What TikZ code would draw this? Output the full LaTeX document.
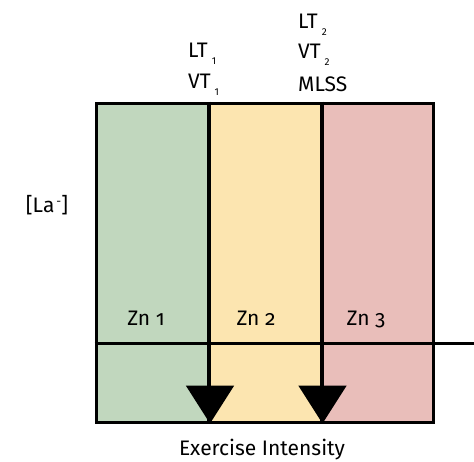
\documentclass[tikz,border=0pt]{standalone}
\usepackage{fontspec}
\setmainfont{Fira Sans}[Numbers=OldStyle]
\usetikzlibrary{arrows.meta}
\newcommand{\thrsub}[1]{\hspace{4pt}{\fontsize{10}{10}\selectfont\raisebox{-7pt}{\addfontfeature{Numbers=Lining}#1}}}
\tikzset{
  zone/.style={draw, line width=3pt, inner sep=0pt, minimum width=112.5pt, minimum height=319pt, anchor=north west},
  lbl/.style={font=\fontsize{21}{25}\selectfont, inner sep=0pt, anchor=base},
  thr/.style={line width=2pt, -{Triangle[width=48pt,length=38pt]}}
}
\begin{document}
\begin{tikzpicture}[x=1pt, y=-1pt]
  \useasboundingbox (0,0) rectangle (474,461);
  % ZONE
  \node[zone, fill={rgb,255:red,193;green,215;blue,190}] (z1) at (94.5,101.5) {};
  \node[zone, fill={rgb,255:red,252;green,229;blue,176}] (z2) at (207,101.5) {};
  \node[zone, fill={rgb,255:red,233;green,190;blue,186}] (z3) at (319.5,101.5) {};
  \node[lbl] (zn1) at (146,325) {Zn 1};
  \node[lbl] (zn2) at (256,325) {Zn 2};
  \node[lbl] (zn3) at (366,325) {Zn 3};

  % ASSE
  \coordinate (xend) at (474,343.5);
  \draw[line width=2.5pt] (z1.west |- xend) -- (xend);

  % SOGLIE
  \draw[thr] (z1.north east) -- (z1.south east);
  \draw[thr] (z2.north east) -- (z2.south east);
  \node[lbl, anchor=base west] (lt1) at (188,57) {LT\thrsub{1}};
  \node[lbl, anchor=base west] (vt1) at (188,88) {VT\thrsub{1}};
  \node[lbl, anchor=base west] (lt2) at (298,28) {LT\thrsub{2}};
  \node[lbl, anchor=base west] (vt2) at (298,58) {VT\thrsub{2}};
  \node[lbl, anchor=base west] (mlss) at (298,91) {MLSS};

  \node[lbl] (ya) at (47,212) {[La\hspace{2pt}{\fontsize{12}{12}\selectfont\raisebox{7pt}{-}}]};
  \node[lbl] (xa) at (262,455) {Exercise Intensity};
\end{tikzpicture}
\end{document}
